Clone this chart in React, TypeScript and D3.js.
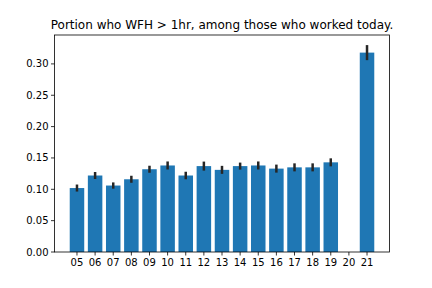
import React from "react";
import * as d3 from "d3";

const categories = ["05","06","07","08","09","10","11","12","13","14","15","16","17","18","19","20","21"];
const values: (number | null)[] = [0.102,0.122,0.106,0.116,0.132,0.138,0.122,0.137,0.131,0.137,0.138,0.133,0.135,0.135,0.143,null,0.318];
const errors: (number | null)[] = [0.0056,0.0056,0.005,0.0056,0.0056,0.0064,0.006,0.0072,0.0064,0.0056,0.0064,0.0064,0.0064,0.0064,0.0064,null,0.012];
const yTicks = [0,0.05,0.1,0.15,0.2,0.25,0.3];
const title = "Portion who WFH > 1hr, among those who worked today.";

export default function App() {
  const W = 432, H = 288;
  const L = 54.5, R = 389.5, T = 35, B = 252;
  const n = categories.length;
  const x = d3.scaleLinear().domain([-0.4 - 0.84, n - 1 + 0.4 + 0.84]).range([L, R]);
  const y = d3.scaleLinear().domain([0, 0.3461]).range([B, T]);
  const bw = x(0.8) - x(0);
  const font = "DejaVu Sans, sans-serif";
  return (
    <svg width={W} height={H} style={{ position: "absolute", left: 0, top: 0 }}>
      <rect x={0} y={0} width={W} height={H} fill="white" />
      {categories.map((c, i) => {
        const v = values[i];
        if (v == null) return null;
        return (
          <rect key={c} x={x(i) - bw / 2} y={y(v)} width={bw} height={y(0) - y(v)} fill="#1f77b4" />
        );
      })}
      {categories.map((c, i) => {
        const v = values[i];
        const e = errors[i];
        if (v == null || e == null) return null;
        return (
          <line key={c} x1={x(i)} x2={x(i)} y1={y(v - e)} y2={y(v + e)} stroke="#262626" strokeWidth={2.5} />
        );
      })}
      <rect x={L} y={T} width={R - L} height={B - T} fill="none" stroke="black" strokeWidth={0.8} />
      {yTicks.map((t) => (
        <g key={t}>
          <line x1={L - 3.5} x2={L} y1={y(t)} y2={y(t)} stroke="black" strokeWidth={0.8} />
          <text x={L - 6} y={y(t)} dy="0.35em" textAnchor="end" fontSize={10} fontFamily={font} fill="black">
            {t.toFixed(2)}
          </text>
        </g>
      ))}
      {categories.map((c, i) => (
        <g key={c}>
          <line x1={x(i)} x2={x(i)} y1={B} y2={B + 3.5} stroke="black" strokeWidth={0.8} />
          <text x={x(i)} y={B + 6} dy="0.8em" textAnchor="middle" fontSize={10} fontFamily={font} fill="black">
            {c}
          </text>
        </g>
      ))}
      <text x={(L + R) / 2} y={T - 6} textAnchor="middle" fontSize={12} fontFamily={font} fill="black">
        {title}
      </text>
    </svg>
  );
}
